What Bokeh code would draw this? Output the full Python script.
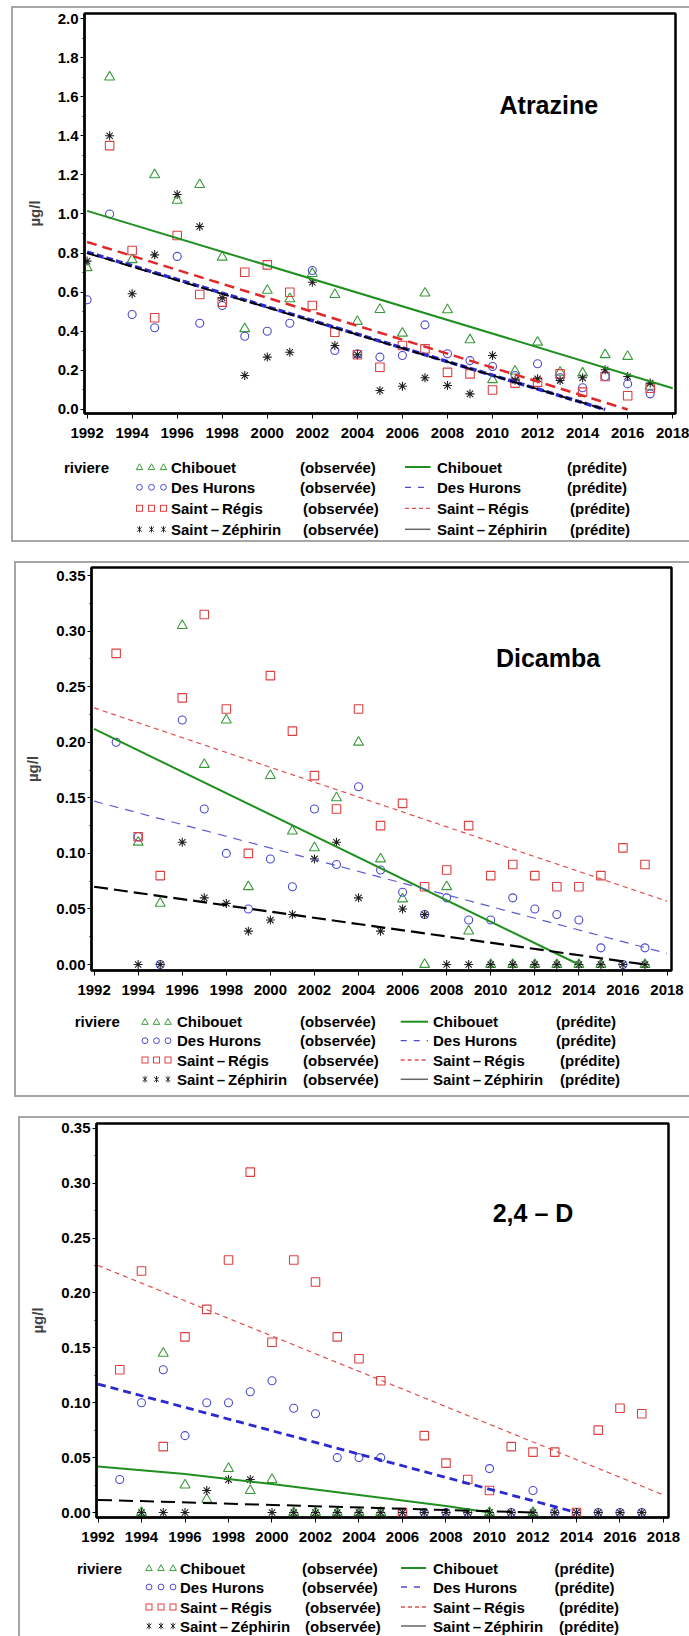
import numpy as np
from bokeh.plotting import figure
from bokeh.layouts import column
from bokeh.models import Label, FixedTicker, PrintfTickFormatter, Range1d, Div
from bokeh.embed import file_html
from bokeh.resources import INLINE

N = None
years = list(range(1992, 2018))
x_ticks = list(range(1992, 2019, 2))
series_names = ["Chibouet", "Des Hurons", "Saint\u2009\u2013\u2009R\u00e9gis", "Saint\u2009\u2013\u2009Z\u00e9phirin"]
legend_title = "riviere"
obs_label = "(observ\u00e9e)"
pred_label = "(pr\u00e9dite)"
y_label = "\u00b5g/l"

# ---------------- Atrazine (observed) ----------------
atr_chibouet = [0.725, 1.70, 0.766, 1.20, 1.07, 1.15, 0.779, 0.413, 0.609, 0.566, 0.695, 0.588, 0.45,
                0.511, 0.39, 0.595, 0.51, 0.356, 0.152, 0.196, 0.344, 0.19, 0.186, 0.28, 0.271, 0.118]
atr_deshurons = [0.561, 1.00, 0.486, 0.418, 0.783, 0.441, 0.532, 0.375, 0.40, 0.441, 0.711, 0.302, 0.285,
                 0.268, 0.276, 0.433, 0.285, 0.25, 0.22, 0.174, 0.234, 0.162, 0.111, 0.169, 0.131, 0.08]
atr_saintregis = [N, 1.35, 0.813, 0.469, 0.89, 0.588, 0.549, 0.702, 0.74, 0.60, 0.532, 0.395, 0.28,
                  0.216, 0.327, 0.31, 0.19, 0.182, 0.10, 0.135, 0.14, 0.182, 0.089, 0.169, 0.07, 0.109]
atr_saintzephirin = [0.759, 1.40, 0.592, 0.791, 1.10, 0.936, 0.571, 0.174, 0.268, 0.293, 0.651, 0.327, 0.28,
                     0.097, 0.119, 0.162, 0.123, 0.08, 0.276, 0.15, 0.157, 0.148, 0.162, 0.203, 0.169, 0.135]
# Atrazine (predicted)
atr_pred_x_chibouet, atr_pred_y_chibouet = [1992, 2018], [1.016, 0.109]
atr_pred_x_deshurons, atr_pred_y_deshurons = [1992, 2015], [0.805, 0.0]
atr_pred_x_saintregis, atr_pred_y_saintregis = [1992, 2016], [0.857, 0.0]
atr_pred_x_saintzephirin, atr_pred_y_saintzephirin = [1992, 2015], [0.800, 0.0]
atr_y_ticks = [0.0, 0.2, 0.4, 0.6, 0.8, 1.0, 1.2, 1.4, 1.6, 1.8, 2.0]
atr_y_minor = [0.1, 0.3, 0.5, 0.7, 0.9, 1.1, 1.3, 1.5, 1.7, 1.9]

# ---------------- Dicamba (observed) ----------------
dic_chibouet = [N, N, 0.11, 0.055, 0.305, 0.18, 0.22, 0.07, 0.17, 0.12, 0.105, 0.15, 0.20,
                0.095, 0.059, 0.0, 0.07, 0.03, 0.0, 0.0, 0.0, 0.0, 0.0, 0.0, N, 0.0]
dic_deshurons = [N, 0.20, 0.115, 0.0, 0.22, 0.14, 0.10, 0.05, 0.095, 0.07, 0.14, 0.09, 0.16,
                 0.085, 0.065, 0.045, 0.06, 0.04, 0.04, 0.06, 0.05, 0.045, 0.04, 0.015, 0.0, 0.015]
dic_saintregis = [N, 0.28, 0.115, 0.08, 0.24, 0.315, 0.23, 0.10, 0.26, 0.21, 0.17, 0.14, 0.23,
                  0.125, 0.145, 0.07, 0.085, 0.125, 0.08, 0.09, 0.08, 0.07, 0.07, 0.08, 0.105, 0.09]
dic_saintzephirin = [N, N, 0.0, 0.0, 0.11, 0.06, 0.055, 0.03, 0.04, 0.045, 0.095, 0.11, 0.06,
                     0.03, 0.05, 0.045, 0.0, 0.0, 0.0, 0.0, 0.0, 0.0, 0.0, 0.0, 0.0, 0.0]
# Dicamba (predicted)
dic_pred_x_chibouet, dic_pred_y_chibouet = [1992, 2014], [0.212, 0.0]
dic_pred_x_deshurons, dic_pred_y_deshurons = [1992, 2018], [0.147, 0.010]
dic_pred_x_saintregis, dic_pred_y_saintregis = [1992, 2018], [0.231, 0.057]
dic_pred_x_saintzephirin, dic_pred_y_saintzephirin = [1992, 2017], [0.070, 0.0]
small_y_ticks = [0.0, 0.05, 0.10, 0.15, 0.20, 0.25, 0.30, 0.35]
small_y_minor = [0.025, 0.075, 0.125, 0.175, 0.225, 0.275, 0.325]

# ---------------- 2,4-D (observed) ----------------
d24_chibouet = [N, N, 0.0, 0.145, 0.025, 0.012, 0.04, 0.02, 0.03, 0.0, 0.0, 0.0, 0.0,
                0.0, N, N, N, N, 0.0, N, 0.0, N, N, N, N, N]
d24_deshurons = [N, 0.03, 0.10, 0.13, 0.07, 0.10, 0.10, 0.11, 0.12, 0.095, 0.09, 0.05, 0.05,
                 0.05, 0.0, 0.0, 0.0, 0.0, 0.04, 0.0, 0.02, 0.0, 0.0, 0.0, 0.0, 0.0]
d24_saintregis = [N, 0.13, 0.22, 0.06, 0.16, 0.185, 0.23, 0.31, 0.155, 0.23, 0.21, 0.16, 0.14,
                  0.12, 0.0, 0.07, 0.045, 0.03, 0.02, 0.06, 0.055, 0.055, 0.0, 0.075, 0.095, 0.09]
d24_saintzephirin = [N, N, 0.0, 0.0, 0.0, 0.02, 0.03, 0.03, 0.0, 0.0, 0.0, 0.0, 0.0,
                     0.0, 0.0, 0.0, 0.0, 0.0, 0.0, 0.0, 0.0, 0.0, 0.0, 0.0, 0.0, 0.0]
# 2,4-D (predicted)
d24_pred_x_chibouet, d24_pred_y_chibouet = [1992, 1996, 2000, 2004, 2008, 2010], [0.042, 0.035, 0.026, 0.016, 0.006, 0.0]
d24_pred_x_deshurons, d24_pred_y_deshurons = [1992, 2014], [0.117, 0.0]
d24_pred_x_saintregis, d24_pred_y_saintregis = [1992, 2018], [0.225, 0.016]
d24_pred_x_saintzephirin, d24_pred_y_saintzephirin = [1992, 2012], [0.0115, 0.0]

# ---------------- styling ----------------
FONT = "Liberation Sans"
MARKERS = ["triangle", "circle", "square", "asterisk"]
MK_COLORS = ["#3a9a3a", "#4a4ad0", "#dd4040", "#222222"]
MK_SIZES = [10, 8, 8.5, 9]
LEG_LINES = [("#1f8f1f", 2, None), ("#4a4ad0", 1.3, "6 7"), ("#e05050", 1.3, "4 3"), ("#666666", 1.5, None)]
FRAME_COLOR = "#a6a6a6"


def arr(v):
    return np.array([np.nan if a is None else a for a in v], dtype=float)


def make_plot(cfg):
    p = figure(width=cfg["w"], height=cfg["h"], x_range=Range1d(*cfg["xr"]), y_range=Range1d(*cfg["yr"]),
               output_backend="svg", toolbar_location=None,
               min_border_left=cfg["bl"], min_border_right=cfg["br"],
               min_border_top=cfg["bt"], min_border_bottom=cfg["bb"])
    p.xgrid.visible = False
    p.ygrid.visible = False
    p.outline_line_color = "black"
    p.outline_line_width = 2.5
    p.background_fill_color = "white"
    p.border_fill_color = "white"

    for ax in (p.xaxis[0], p.yaxis[0]):
        ax.axis_line_color = "black"
        ax.axis_line_width = 2
        ax.major_tick_line_color = "black"
        ax.major_tick_line_width = 1
        ax.minor_tick_line_color = "black"
        ax.major_tick_in = 0
        ax.minor_tick_in = 0
        ax.major_label_text_font = FONT
        ax.major_label_text_font_style = "bold"
        ax.major_label_text_font_size = "15px"
        ax.major_label_text_color = "black"
    xa = p.xaxis[0]
    xa.ticker = FixedTicker(ticks=x_ticks, minor_ticks=[])
    xa.major_tick_out = 5
    xa.major_label_standoff = 9
    ya = p.yaxis[0]
    ya.ticker = FixedTicker(ticks=cfg["yticks"], minor_ticks=cfg["yminor"])
    ya.formatter = PrintfTickFormatter(format=cfg["yfmt"])
    ya.major_tick_out = 4
    ya.minor_tick_out = 2
    ya.major_label_standoff = 2
    ya.axis_label = y_label
    ya.axis_label_text_font = FONT
    ya.axis_label_text_font_style = "bold"
    ya.axis_label_text_font_size = "15px"
    ya.axis_label_standoff = 12

    for vals, mk, col, sz in zip(cfg["obs"], MARKERS, MK_COLORS, MK_SIZES):
        p.scatter(years, arr(vals), marker=mk, size=sz, fill_color=None, line_color=col, line_width=1.1)
    for (xs, ys), (col, lw, dash) in zip(cfg["pred"], cfg["pred_style"]):
        p.line(xs, ys, line_color=col, line_width=lw, line_dash=dash)

    p.add_layout(Label(x=cfg["title_pos"][0], y=cfg["title_pos"][1], text=cfg["title"], text_font=FONT,
                       text_font_style="bold", text_font_size="25px", text_align="center",
                       text_baseline="middle", text_color="black"))
    return p


def svg_marker(kind, cx, cy, color):
    if kind == "triangle":
        return ('<polygon points="%.1f,%.1f %.1f,%.1f %.1f,%.1f" fill="none" stroke="%s" stroke-width="1"/>'
                % (cx, cy - 3.2, cx - 3.3, cy + 2.6, cx + 3.3, cy + 2.6, color))
    if kind == "circle":
        return '<circle cx="%.1f" cy="%.1f" r="2.9" fill="none" stroke="%s" stroke-width="1"/>' % (cx, cy, color)
    if kind == "square":
        return ('<rect x="%.1f" y="%.1f" width="6" height="6" fill="none" stroke="%s" stroke-width="1"/>'
                % (cx - 3, cy - 3, color))
    d = 3.2
    e = d * 0.7071
    return ('<path d="M%.1f %.1fL%.1f %.1fM%.1f %.1fL%.1f %.1fM%.1f %.1fL%.1f %.1f" stroke="%s" stroke-width="1" fill="none"/>'
            % (cx, cy - d, cx, cy + d, cx - e, cy - e, cx + e, cy + e, cx - e, cy + e, cx + e, cy - e, color))


def make_legend(cfg):
    L = cfg["leg"]
    w, h = cfg["w"], L["h"]
    rows = L["rows"]
    t = ('<text x="%.1f" y="%.1f" font-family="Liberation Sans" font-weight="bold" font-size="15px" '
         'fill="black" dominant-baseline="central">%s</text>')
    parts = ['<svg xmlns="http://www.w3.org/2000/svg" width="%d" height="%d" style="display:block">' % (w, h)]
    parts.append(t % (L["title_x"], rows[0], legend_title))
    for i in range(4):
        y = rows[i]
        for sx in L["sym_x"]:
            parts.append(svg_marker(MARKERS[i], sx, y, MK_COLORS[i]))
        parts.append(t % (L["name_x"], y, series_names[i]))
        parts.append(t % (L["obs_x"][i], y, obs_label))
        col, lw, dash = LEG_LINES[i]
        da = (' stroke-dasharray="%s"' % dash) if dash else ""
        parts.append('<line x1="%.1f" y1="%.1f" x2="%.1f" y2="%.1f" stroke="%s" stroke-width="%.1f"%s/>'
                     % (L["line_x"][0], y, L["line_x"][1], y, col, lw, da))
        parts.append(t % (L["name2_x"], y, series_names[i]))
        parts.append(t % (L["pred_x"][i], y, pred_label))
    parts.append('</svg>')
    return Div(text="".join(parts), width=w, height=h, margin=0, styles={"padding": "0", "overflow": "hidden"})


def make_panel(cfg):
    p = make_plot(cfg)
    q = make_legend(cfg)
    st = {"border-left": "2px solid " + FRAME_COLOR, "border-top": "2px solid " + FRAME_COLOR}
    if cfg["bottom_border"]:
        st["border-bottom"] = "2px solid " + FRAME_COLOR
    return column(p, q, spacing=0, styles=st, margin=cfg["margin"])


cfg1 = dict(w=676, h=444, margin=(6, 0, 0, 11), bottom_border=True,
            xr=(1991.885, 2018.124), yr=(-0.0205, 2.0256), bl=71, br=14, bt=5, bb=39,
            yticks=atr_y_ticks, yminor=atr_y_minor, yfmt="%.1f",
            obs=[atr_chibouet, atr_deshurons, atr_saintregis, atr_saintzephirin],
            pred=[(atr_pred_x_chibouet, atr_pred_y_chibouet), (atr_pred_x_deshurons, atr_pred_y_deshurons),
                  (atr_pred_x_saintregis, atr_pred_y_saintregis), (atr_pred_x_saintzephirin, atr_pred_y_saintzephirin)],
            pred_style=[("#1f8f1f", 2, "solid"), ("#2a2ad0", 3.5, "7 3"), ("#e02828", 2.5, "10 6"), ("#000000", 1.8, "12 5")],
            title="Atrazine", title_pos=(2012.5, 1.56),
            leg=dict(h=88, rows=[15, 35.3, 56.3, 77.3], title_x=51, sym_x=[126.5, 138.5, 150.5], name_x=158,
                     obs_x=[287, 287, 290, 290], line_x=(392, 417.5), name2_x=424, pred_x=[554, 554, 557, 557]))

cfg2 = dict(w=673, h=443, margin=(19, 0, 0, 14), bottom_border=True,
            xr=(1991.882, 2018.204), yr=(-0.0054, 0.3573), bl=75, br=18, bt=4, bb=36,
            yticks=small_y_ticks, yminor=small_y_minor, yfmt="%.2f",
            obs=[dic_chibouet, dic_deshurons, dic_saintregis, dic_saintzephirin],
            pred=[(dic_pred_x_chibouet, dic_pred_y_chibouet), (dic_pred_x_deshurons, dic_pred_y_deshurons),
                  (dic_pred_x_saintregis, dic_pred_y_saintregis), (dic_pred_x_saintzephirin, dic_pred_y_saintzephirin)],
            pred_style=[("#1f8f1f", 2, "solid"), ("#5b5bd6", 1.2, "9 7"), ("#e05050", 1.2, "5 4"), ("#000000", 2.2, "14 6")],
            title="Dicamba", title_pos=(2012.6, 0.2755),
            leg=dict(h=89, rows=[15.7, 34.7, 54, 73.3], title_x=58.7, sym_x=[129, 140.5, 152], name_x=161,
                     obs_x=[284, 284, 287, 287], line_x=(384.7, 412), name2_x=417, pred_x=[540, 540, 544, 544]))

cfg3 = dict(w=669, h=435, margin=(19, 0, 0, 18), bottom_border=False,
            xr=(1991.931, 2018.23), yr=(-0.00455, 0.3543), bl=76, br=21, bt=5, bb=36,
            yticks=small_y_ticks, yminor=small_y_minor, yfmt="%.2f",
            obs=[d24_chibouet, d24_deshurons, d24_saintregis, d24_saintzephirin],
            pred=[(d24_pred_x_chibouet, d24_pred_y_chibouet), (d24_pred_x_deshurons, d24_pred_y_deshurons),
                  (d24_pred_x_saintregis, d24_pred_y_saintregis), (d24_pred_x_saintzephirin, d24_pred_y_saintzephirin)],
            pred_style=[("#1f8f1f", 2, "solid"), ("#2a2ad0", 2.8, "8 5"), ("#e05050", 1.2, "5 4"), ("#000000", 2, "14 7")],
            title="2,4 \u2013 D", title_pos=(2012.0, 0.273),
            leg=dict(h=83, rows=[15, 34, 54, 73], title_x=57, sym_x=[129, 141, 153], name_x=160,
                     obs_x=[282, 282, 285, 285], line_x=(381, 406), name2_x=413, pred_x=[534.5, 534.5, 539, 539]))

layout = column(make_panel(cfg1), make_panel(cfg2), make_panel(cfg3), spacing=0)

open("out.html", "w").write(file_html(layout, INLINE))
